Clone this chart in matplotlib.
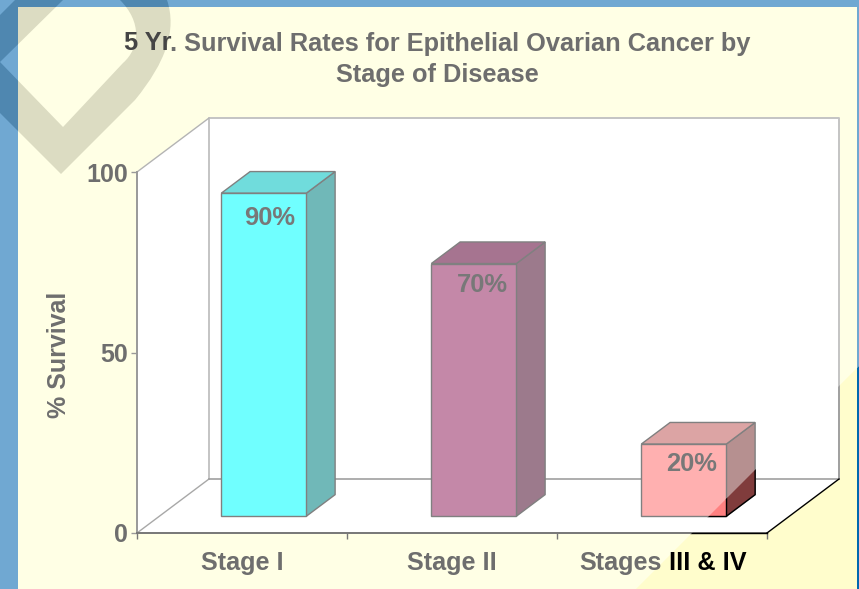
import matplotlib
matplotlib.use("Agg")
import matplotlib.pyplot as plt
from matplotlib.patches import Polygon, PathPatch, Rectangle
from matplotlib.path import Path

plt.rcParams['font.family'] = ['Liberation Sans', 'DejaVu Sans']
plt.rcParams['font.weight'] = 'bold'

title_start = "5 Yr"
title_rest = ". Survival Rates for Epithelial Ovarian Cancer by"
title_line2 = "Stage of Disease"
y_label = "% Survival"
categories = ["Stage I", "Stage II"]
last_start = "Stages"
last_rest = "III & IV"
survival = [89.5, 70, 20]
bar_labels = ["90%", "70%", "20%"]
y_ticks = [0, 50, 100]

front_colors = ["#70FFFF", "#C488A8", "#FFB0B0"]
top_colors = ["#70DCDC", "#A67490", "#DCA4A4"]
side_colors = ["#70B8B8", "#9C7A8C", "#B69090"]

text_gray = "#6E6E6E"
W, H = 859, 589

fig = plt.figure(figsize=(W / 100, H / 100), dpi=100)


def clip_to(artist, patch):
    # the axes box must not clip as well, only the patch
    artist.set_clip_on(True)
    artist.set_clip_box(None)
    artist.set_clip_path(patch)


def two_colors(left, right, sep, cx, y, va, size, left_color, right_color):
    # agg ignores clip paths on text, so a line that changes colour is made of two texts
    probe = fig.text(0.5, 0.5, left + sep + right, fontsize=size)
    width = probe.get_window_extent(fig.canvas.get_renderer()).width
    probe.remove()
    fig.text((cx - width / 2) / W, y, left, ha="left", va=va, fontsize=size, color=left_color)
    fig.text((cx + width / 2) / W, y, right, ha="right", va=va, fontsize=size, color=right_color)


# background, in pixels of the picture
bg = fig.add_axes([0, 0, 1, 1], zorder=0)
bg.set_xlim(0, W)
bg.set_ylim(H, 0)
bg.axis("off")
bg.add_patch(Rectangle((0, 0), W, H, color="#70A8D2", lw=0))

ring_verts = [(0, 15), (15, 0), (167, 0), (177, 30), (166, 62), (135, 100), (61, 174), (0, 113), (0, 15),
              (0, 62), (63, 127), (123, 63), (140, 48), (142, 22), (120, 0), (63, 0), (0, 62)]
ring_codes = [Path.MOVETO, Path.LINETO, Path.LINETO, Path.CURVE4, Path.CURVE4, Path.CURVE4, Path.LINETO,
              Path.LINETO, Path.CLOSEPOLY,
              Path.MOVETO, Path.LINETO, Path.LINETO, Path.CURVE4, Path.CURVE4, Path.CURVE4, Path.LINETO, Path.CLOSEPOLY]
ring_path = Path(ring_verts, ring_codes)

bg.add_patch(PathPatch(ring_path, fc="#4F87B0", lw=0))
panel = Rectangle((18, 7), 839, 582, fc="#FFFFE5", lw=0)
bg.add_patch(panel)
ring_panel = PathPatch(ring_path, fc="#DCDCC2", lw=0)
bg.add_patch(ring_panel)
clip_to(ring_panel, panel)

# the lower right corner of the slide is darker
corner = Polygon([(W, 366), (W, H), (636, H)], fc="#FFFDCC", lw=0)
bg.add_patch(corner)
strip = Rectangle((857, 0), 2, H, fc="#0068B0", lw=0)
bg.add_patch(strip)
clip_to(strip, corner)

# chart
ax = fig.add_axes([137 / W, 1 - 533 / H, 630 / W, 361 / H], zorder=1)
ax.patch.set_visible(False)
ax.set_xlim(0, 3)
ax.set_ylim(0, 100)

# depth of the box and of the bars, in data units
depth_x = 72 / 210
depth_y = 54 / 3.61
bar_w = 85 / 210
bar_shift = -0.5 / 210
bar_start = 0.31
bar_end = 0.71


def pt(x, y, d):
    return (x + d * depth_x, y + d * depth_y)


walls = [
    [pt(0, 0, 0), pt(0, 100, 0), pt(0, 100, 1), pt(0, 0, 1)],
    [pt(0, 0, 1), pt(0, 100, 1), pt(3, 100, 1), pt(3, 0, 1)],
    [pt(0, 0, 0), pt(3, 0, 0), pt(3, 0, 1), pt(0, 0, 1)],
]
for w in walls:
    ax.add_patch(Polygon(w, fc="white", lw=0, clip_on=False, zorder=1))

ax.plot(*zip(pt(0, 0, 1), pt(0, 100, 1), pt(3, 100, 1), pt(3, 0, 1)), color="#C4C4C4", lw=1.4, clip_on=False, zorder=2)
ax.plot(*zip(pt(0, 0, 0), pt(0, 0, 1)), color="#A8A8A8", lw=1.0, clip_on=False, zorder=2)
ax.plot(*zip(pt(0, 0, 1), pt(3, 0, 1)), color="#A0A0A0", lw=1.2, clip_on=False, zorder=2)
ax.plot(*zip(pt(0, 100, 0), pt(0, 100, 1)), color="#B4B4B4", lw=1.0, clip_on=False, zorder=2)

# darker part of the back wall edge inside the corner
edge = ax.plot(*zip(pt(3, 100, 1), pt(3, 0, 1)), color="#A0A0A0", lw=1.4, zorder=2)[0]
clip_to(edge, corner)

# bars
label_offsets = [(3.5, -18), (5.7, -15.7), (5, -14.3)]
for i, v in enumerate(survival):
    x0 = i + 0.5 - bar_w / 2 + bar_shift
    x1 = i + 0.5 + bar_w / 2 + bar_shift
    front = [pt(x0, 0, bar_start), pt(x1, 0, bar_start), pt(x1, v, bar_start), pt(x0, v, bar_start)]
    top = [pt(x0, v, bar_start), pt(x1, v, bar_start), pt(x1, v, bar_end), pt(x0, v, bar_end)]
    side = [pt(x1, 0, bar_start), pt(x1, 0, bar_end), pt(x1, v, bar_end), pt(x1, v, bar_start)]
    for poly, c in [(side, side_colors[i]), (top, top_colors[i]), (front, front_colors[i])]:
        ax.add_patch(Polygon(poly, fc=c, ec="#808080", lw=1.0, clip_on=False, zorder=3, joinstyle="miter"))
    if i == 2:
        p = Polygon(side, fc="#803C3C", ec="black", lw=1.0, zorder=4)
        ax.add_patch(p)
        clip_to(p, corner)
        p = Polygon(front, fc="#FF8080", ec="black", lw=1.0, zorder=4)
        ax.add_patch(p)
        clip_to(p, corner)
    lx, ly = pt(i + 0.5, v, bar_start)
    ax.annotate(bar_labels[i], (lx, ly), xytext=label_offsets[i], textcoords="offset points", ha="center", va="center",
                fontsize=18.4, color="#787878", zorder=5, annotation_clip=False)

# axes
for s in ["top", "right"]:
    ax.spines[s].set_visible(False)
ax.spines["left"].set_color("#999999")
ax.spines["left"].set_linewidth(1.4)
ax.spines["bottom"].set_color("#777777")
ax.spines["bottom"].set_linewidth(1.4)
ax.set_yticks(y_ticks)
ax.set_xticks([0, 1, 2, 3], minor=True)
ax.set_xticks([0.5, 1.5], categories)
ax.tick_params(axis="x", which="major", length=0, pad=13, labelsize=18.2, labelcolor=text_gray)
ax.tick_params(axis="x", which="minor", length=4.3, width=1, color="#777777", direction="out")
ax.tick_params(axis="y", length=4.3, width=1, color="#999999", pad=2, labelsize=18, labelcolor=text_gray)
ax.set_ylabel(y_label, fontsize=18, fontweight="bold", color=text_gray)
ax.yaxis.set_label_coords(-66 / 630, 0.493)

# black copies of what lies inside the corner
for a, b in [(pt(0, 0, 0), pt(3, 0, 0)), (pt(3, 0, 0), pt(3, 0, 1))]:
    ln = ax.plot(*zip(a, b), color="black", lw=1.0, zorder=6)[0]
    clip_to(ln, corner)

# title
two_colors(title_start, title_rest, "", 437, 1 - 50.5 / H, "baseline", 18.3, "#454545", text_gray)
fig.text(437 / W, 1 - 82.5 / H, title_line2, ha="center", va="baseline", fontsize=18.3, color=text_gray)

# last category, same line as the tick labels
fig.canvas.draw()
top_y = ax.get_xticklabels()[1].get_window_extent().y1 / 100 / (H / 100)
two_colors(last_start, last_rest, " ", 663, top_y, "top", 18.2, text_gray, "black")

fig.savefig("out.png", dpi=100)
